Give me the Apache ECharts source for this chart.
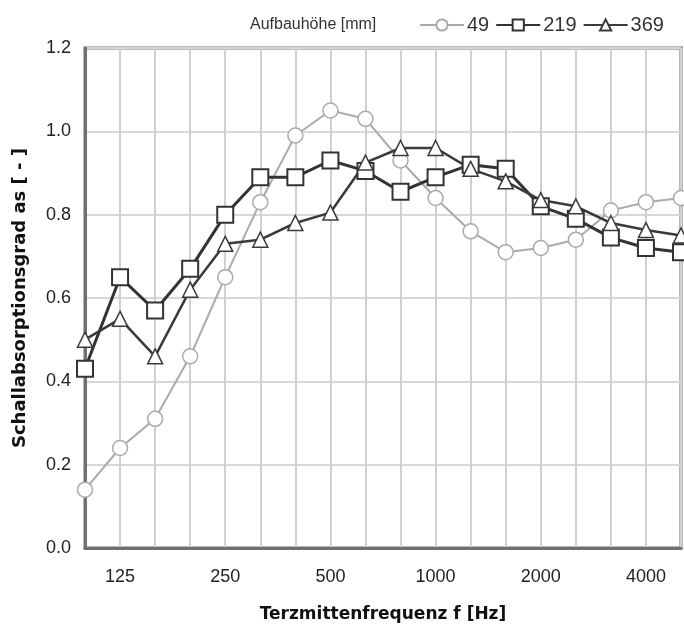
<!DOCTYPE html>
<html><head><meta charset="utf-8">
<script src="https://cdn.jsdelivr.net/npm/echarts@6/dist/echarts.min.js"></script>
<style>html,body{margin:0;padding:0;background:#fff}#c{width:684px;height:630px}</style>
</head><body><div id="c"></div>
<script>
const frequencies = ['100','125','160','200','250','315','400','500','630','800','1000','1250','1600','2000','2500','3150','4000','5000'];
const shownLabels = ['125','250','500','1000','2000','4000'];
const values49  = [0.14,0.24,0.31,0.46,0.65,0.83,0.99,1.05,1.03,0.93,0.84,0.76,0.71,0.72,0.74,0.81,0.83,0.84];
const values219 = [0.43,0.65,0.57,0.67,0.80,0.89,0.89,0.93,0.905,0.855,0.89,0.92,0.91,0.82,0.79,0.745,0.72,0.71];
const values369 = [0.50,0.55,0.46,0.62,0.73,0.74,0.78,0.805,0.925,0.96,0.96,0.91,0.88,0.835,0.82,0.78,0.763,0.75];
const seriesNames = ['49','219','369'];

const FONT = "'Liberation Sans',Arial,sans-serif";
const BOLDFONT = "'DejaVu Sans','Liberation Sans',sans-serif";
const chart = echarts.init(document.getElementById('c'));
function mk(name, data, color, lw, symbol, size, bw){
  return {name, type:'line', data, clip:false,
    lineStyle:{color, width:lw},
    itemStyle:{color:'#fff', borderColor:color, borderWidth:bw},
    symbol, symbolSize:size, showAllSymbol:true};
}
chart.setOption({
  animation:false,
  backgroundColor:'#fff',
  title:{text:'Aufbauhöhe [mm]', left:245, top:12,
    textStyle:{fontFamily:FONT, fontSize:16, fontWeight:'normal', color:'#333'}},
  legend:{top:10, left:414, itemWidth:44, itemHeight:14, itemGap:6,
    textStyle:{fontFamily:FONT, fontSize:20, color:'#333', padding:[0,0,0,-2]},
    data:seriesNames},
  grid:{left:85, right:3, top:48, bottom:82, show:true, borderColor:'#707070', borderWidth:3},
  xAxis:{type:'category', data:frequencies, boundaryGap:false,
    name:'Terzmittenfrequenz f [Hz]', nameLocation:'middle', nameGap:58,
    nameTextStyle:{fontFamily:BOLDFONT, fontSize:17, fontWeight:'bold', color:'#111'},
    axisLine:{show:true, lineStyle:{color:'#707070', width:3}},
    axisTick:{show:false},
    axisLabel:{interval:(i,v)=>shownLabels.includes(v), margin:20, fontFamily:FONT, fontSize:18, color:'#222'},
    splitLine:{show:true, interval:0, lineStyle:{color:'#d0d0d0', width:2}}},
  yAxis:{type:'value', min:0, max:1.2, interval:0.2,
    name:'Schallabsorptionsgrad as [ - ]', nameLocation:'middle', nameGap:56,
    nameTextStyle:{fontFamily:BOLDFONT, fontSize:18, fontWeight:'bold', color:'#111', padding:[0,0,0,0]},
    axisLine:{show:true, lineStyle:{color:'#707070', width:3}},
    axisTick:{show:false},
    axisLabel:{formatter:v=>v.toFixed(1), margin:14, fontFamily:FONT, fontSize:18, color:'#222'},
    splitLine:{show:true, lineStyle:{color:'#d8d8d8', width:2}}},
  series:[
    mk('49', values49, '#aaaaaa', 2, 'circle', 15, 1.5),
    mk('219', values219, '#333333', 3, 'rect', 16, 2),
    mk('369', values369, '#3a3a3a', 2.5, 'triangle', 15, 1.5)
  ]
});
</script></body></html>
